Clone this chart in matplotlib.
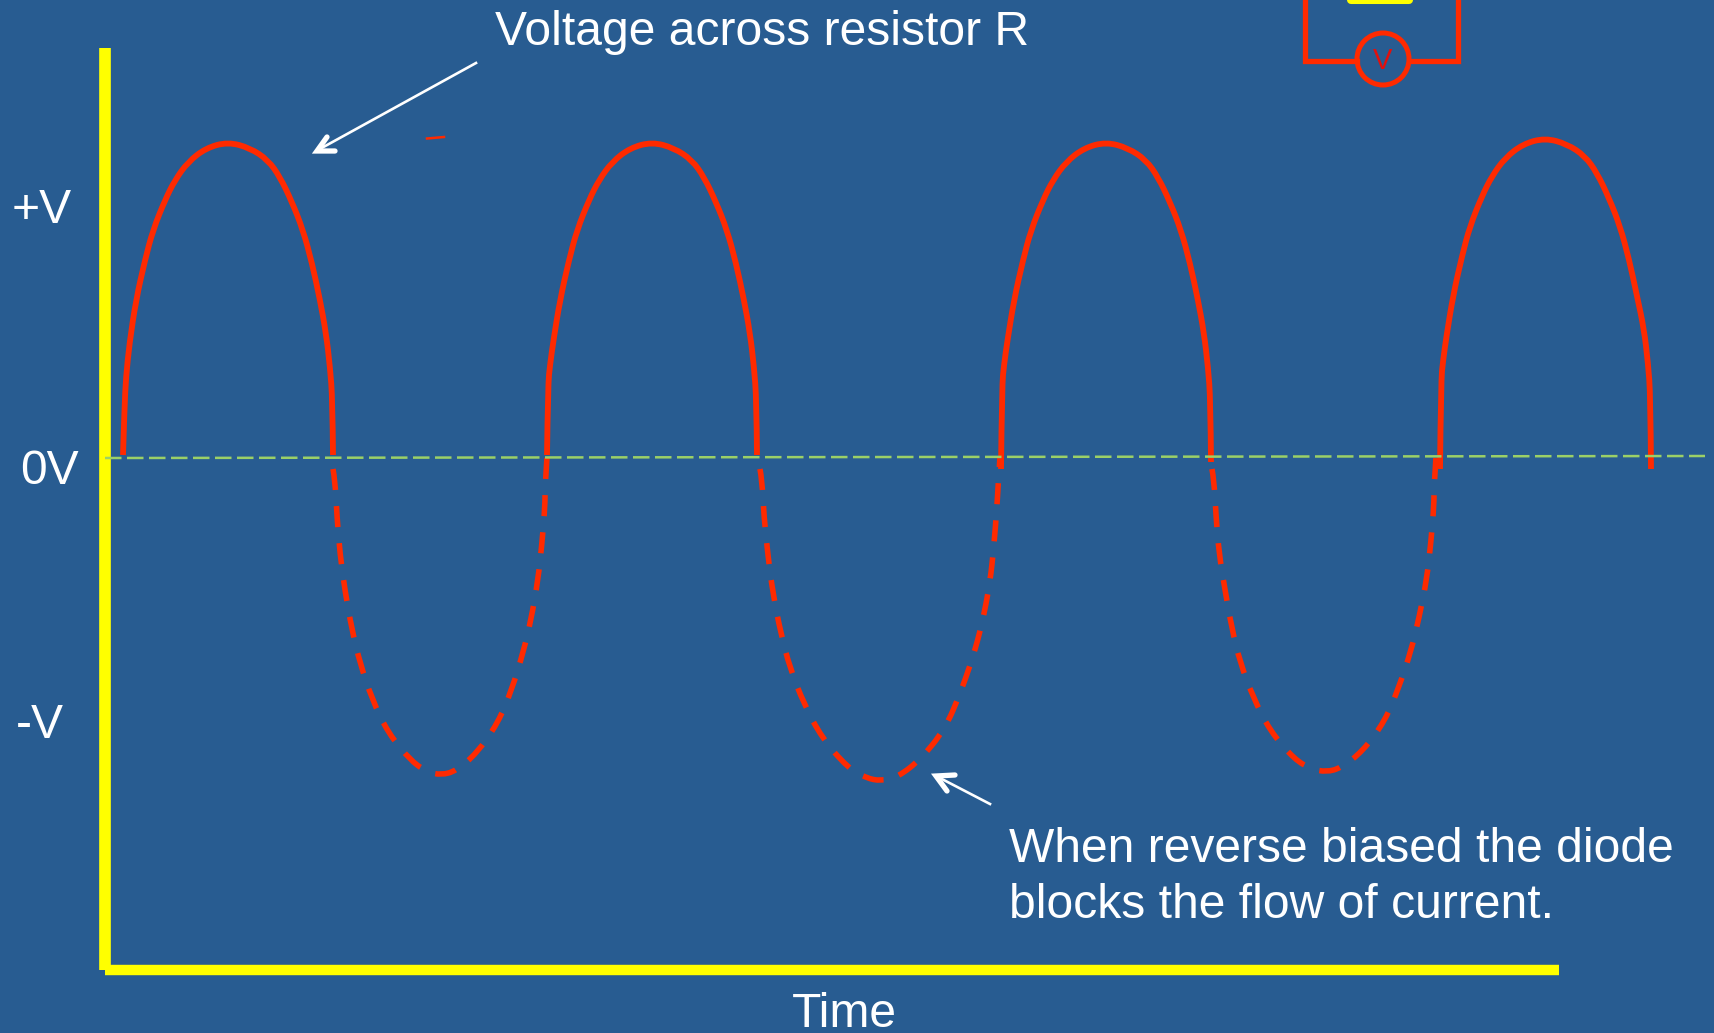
import matplotlib
matplotlib.use('Agg')
import matplotlib.pyplot as plt
from matplotlib.path import Path
from matplotlib.patches import PathPatch, Circle

plt.rcParams['font.family'] = ['Liberation Sans', 'DejaVu Sans']

BG = '#285c91'
RED = '#ff2a00'
YELLOW = '#ffff00'
GREEN = '#9bd067'

# curves, in slide pixels (x right, y down)
hump1_x = [123, 124.5, 126, 129.5, 136, 145, 153, 165, 175, 188, 206, 228, 250, 268, 280, 292, 303, 312, 320, 326, 330, 332.5, 333]
hump1_y = [455, 407, 377, 343, 300, 260, 230, 200, 180, 162, 148, 142, 148, 160, 177, 202, 230, 263, 300, 333, 367, 400, 455]
hump2_x = [547, 548, 550, 553.5, 560, 569, 577, 589, 599, 612, 630, 652, 674, 692, 704, 716, 727, 736, 744, 750, 754, 756.5, 757]
hump2_y = [455, 385, 365, 340, 300, 260, 230, 200, 180, 162, 148, 142, 148, 160, 177, 202, 230, 263, 300, 333, 367, 400, 455]
hump3_x = [1001, 1002, 1004, 1007.5, 1014, 1023, 1031, 1043, 1053, 1066, 1084, 1106, 1128, 1146, 1158, 1170, 1181, 1190, 1198, 1204, 1208, 1210.5, 1211]
hump3_y = [469, 385, 365, 340, 300, 260, 230, 200, 180, 162, 148, 142, 148, 160, 177, 202, 230, 263, 300, 333, 367, 400, 462]
hump4_x = [1440, 1441, 1443, 1446.5, 1453, 1462, 1470, 1482, 1492, 1505, 1523, 1545, 1567, 1585, 1597, 1609, 1620, 1629, 1637, 1644, 1648, 1650.5, 1651]
hump4_y = [469, 381, 361, 336, 296, 256, 226, 196, 176, 158, 144, 138, 144, 156, 173, 198, 226, 259, 296, 329, 363, 396, 469]

dip1_x = [333, 335, 337, 340, 345, 352, 360, 372, 388, 412, 428, 441, 456, 477, 498, 512, 523, 531, 538, 542, 545, 545, 547]
dip1_y = [469, 480, 517, 554, 591, 630, 663, 699, 733, 762, 772, 775, 771, 753, 723, 689, 653, 620, 580, 543, 506, 487, 457]
dip2_x = [760, 762, 764, 768, 773, 781, 790, 804, 822, 848, 866, 881, 898, 921, 945, 960, 973, 982, 990, 994, 997, 998, 1000]
dip2_y = [469, 480, 517, 556, 594, 634, 668, 704, 738, 768, 778, 781, 777, 759, 729, 694, 657, 624, 583, 545, 506, 487, 457]
dip3_x = [1212, 1214, 1216, 1219, 1225, 1232, 1240, 1253, 1270, 1295, 1312, 1326, 1341, 1363, 1385, 1399, 1411, 1419, 1427, 1431, 1434, 1434, 1436]
dip3_y = [469, 480, 516, 553, 590, 629, 662, 697, 731, 760, 769, 772, 768, 751, 721, 687, 651, 618, 578, 541, 505, 486, 457]

zero_x = [105, 1705]
zero_y = [458, 456]


def smooth_path(x, y):
    pts = list(zip(x, y))
    verts = [pts[0]]
    codes = [Path.MOVETO]
    for i in range(1, len(pts) - 1):
        if i < len(pts) - 2:
            end = ((pts[i][0] + pts[i + 1][0]) / 2, (pts[i][1] + pts[i + 1][1]) / 2)
        else:
            end = pts[i + 1]
        verts += [pts[i], end]
        codes += [Path.CURVE3, Path.CURVE3]
    return Path(verts, codes)


fig = plt.figure(figsize=(17.15, 10.33), dpi=100, facecolor=BG)
ax = fig.add_axes([0, 0, 1, 1])
ax.set_xlim(0, 1715)
ax.set_ylim(1033, 0)
ax.axis('off')

# axes of the slide
ax.plot([105, 105], [48, 970], color=YELLOW, lw=8.4, solid_capstyle='butt')
ax.plot([105, 1559], [970, 970], color=YELLOW, lw=7.5, solid_capstyle='butt')

for x, y in [(hump1_x, hump1_y), (hump2_x, hump2_y), (hump3_x, hump3_y), (hump4_x, hump4_y)]:
    ax.add_patch(PathPatch(smooth_path(x, y), fc='none', ec=RED, lw=4.2, capstyle='butt'))
for x, y in [(dip1_x, dip1_y), (dip2_x, dip2_y), (dip3_x, dip3_y)]:
    ax.add_patch(PathPatch(smooth_path(x, y), fc='none', ec=RED, lw=4.0, linestyle=(0, (3.8, 2.9)), capstyle='butt'))

ax.plot(zero_x, zero_y, color=GREEN, lw=1.8, linestyle=(0, (6.6, 2.2)), dash_capstyle='butt')

# stray mark
ax.plot([427, 444], [138.5, 137], color=RED, lw=1.8)

# arrows
ax.plot([476, 318], [63, 150], color='white', lw=1.9)
ax.plot([327, 317, 335], [137, 151, 151], color='white', lw=3.8, solid_joinstyle='miter', solid_capstyle='round')
ax.plot([990, 938], [804, 777], color='white', lw=1.9)
ax.plot([955, 936, 947], [775, 776, 791], color='white', lw=3.8, solid_joinstyle='miter', solid_capstyle='round')

# voltmeter
ax.plot([1305, 1305, 1357], [0, 61, 61], color=RED, lw=3.8, solid_joinstyle='miter')
ax.plot([1412, 1458, 1458], [61, 61, 0], color=RED, lw=3.8, solid_joinstyle='miter')
ax.add_patch(Circle((1383, 59), 26, fc='none', ec=RED, lw=3.6))
ax.plot([1351, 1409], [0, 0], color=YELLOW, lw=5.8, solid_capstyle='round')
ax.text(1383, 61, 'V', color='#e2100c', fontsize=21, ha='center', va='center')

# labels
fs = 34.6
ax.text(495.5, 32.5, 'Voltage across resistor R', color='white', fontsize=fs, va='center')
ax.text(12, 210.5, '+V', color='white', fontsize=fs, va='center')
ax.text(20.5, 471.5, '0V', color='white', fontsize=fs, va='center')
ax.text(15.5, 725.5, '-V', color='white', fontsize=fs, va='center')
ax.text(1009, 849.5, 'When reverse biased the diode', color='white', fontsize=fs, va='center')
ax.text(1009, 905.5, 'blocks the flow of current.', color='white', fontsize=fs, va='center')
ax.text(792, 1014.5, 'Time', color='white', fontsize=fs, va='center')

fig.savefig('out.png', dpi=100, facecolor=BG)
